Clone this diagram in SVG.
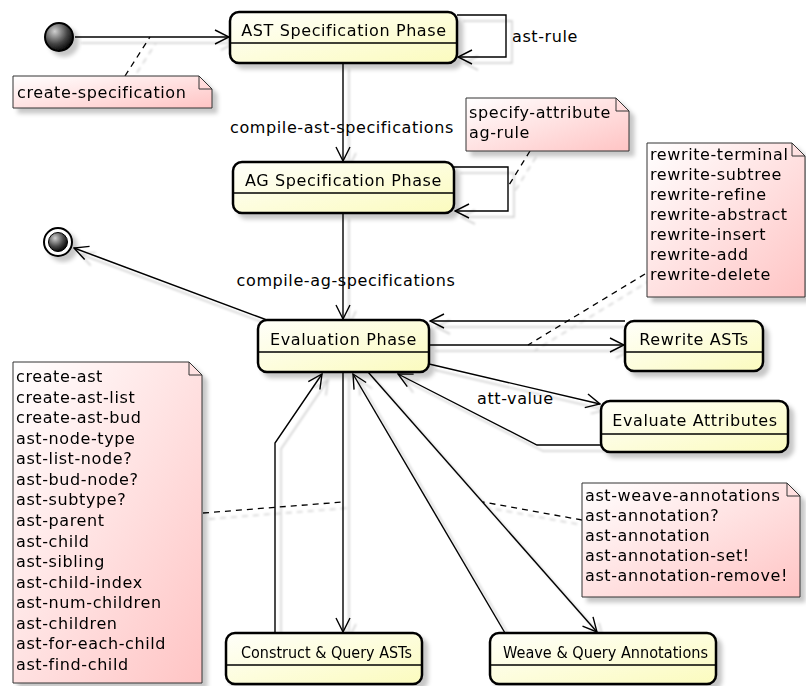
<svg xmlns="http://www.w3.org/2000/svg" width="806" height="686" viewBox="0 0 806 686">
<style>
text{font-family:"DejaVu Sans","Liberation Sans",sans-serif;font-size:16px;letter-spacing:0.6px;fill:#000}
.state{fill:url(#gState);stroke:#000;stroke-width:2.5}
.div{stroke:#000;stroke-width:1.5}
.note{fill:url(#gNote);stroke:#333;stroke-width:1}
.fold{fill:none;stroke:#333;stroke-width:1}
.ln{fill:none;stroke:#000;stroke-width:1.4}
.arr{marker-end:url(#ah)}
.dash{fill:none;stroke:#000;stroke-width:1.3;stroke-dasharray:6,5}
.fit{letter-spacing:0}
</style>
<defs>
<linearGradient id="gState" x1="0" y1="0" x2="1" y2="1">
<stop offset="0" stop-color="#FFFFFA"/><stop offset="1" stop-color="#FBFBBE"/>
</linearGradient>
<linearGradient id="gNote" x1="0" y1="0" x2="1" y2="1">
<stop offset="0" stop-color="#FFFFFF"/><stop offset="1" stop-color="#FFC4C4"/>
</linearGradient>
<radialGradient id="gDot" cx="0.35" cy="0.3" r="0.75">
<stop offset="0" stop-color="#d0d0d0"/><stop offset="0.6" stop-color="#444"/><stop offset="1" stop-color="#000"/>
</radialGradient>
<filter id="sh" x="-20%" y="-20%" width="150%" height="150%">
<feDropShadow dx="5" dy="5" stdDeviation="2" flood-color="#000" flood-opacity="0.22"/>
</filter>
<filter id="lsh" filterUnits="userSpaceOnUse" x="0" y="0" width="806" height="686">
<feDropShadow dx="6" dy="6" stdDeviation="0.8" flood-color="#000" flood-opacity="0.2"/>
</filter>
<marker id="ah" viewBox="0 0 16 16" refX="15" refY="8" markerWidth="16" markerHeight="16" markerUnits="userSpaceOnUse" orient="auto">
<path d="M1,1 L15,8 L1,15" fill="none" stroke="#000" stroke-width="1.4"/>
</marker>
</defs>

<g id="connectors" filter="url(#lsh)">
<path class="ln arr" d="M75,37 L229,37"/>
<path class="ln arr" d="M457,15 L506,15 L506,57 L458,57"/>
<path class="ln arr" d="M343,63 L343,161"/>
<path class="ln arr" d="M454,167 L508,167 L508,211 L455,211"/>
<path class="ln arr" d="M343,213 L343,319"/>
<path class="ln arr" d="M267,320 L74,248"/>
<path class="ln arr" d="M625,321 L430,321"/>
<path class="ln arr" d="M429,345 L624,345"/>
<path class="ln arr" d="M429,364 L600,404"/>
<path class="ln arr" d="M601,445 L537,445 L398,374"/>
<path class="ln arr" d="M275,633 L275,443 L322,374"/>
<path class="ln arr" d="M343,372 L343,632"/>
<path class="ln arr" d="M505,633 L353,374"/>
<path class="ln arr" d="M368,372 L597,632"/>
<path class="dash" d="M125,76 L150,37"/>
<path class="dash" d="M530,151 L509,185"/>
<path class="dash" d="M645,274 L528,345"/>
<path class="dash" d="M203,513 L343,502"/>
<path class="dash" d="M582,520 L483,502"/>
</g>
<g id="connector-labels">
<text x="512" y="42">ast-rule</text>
<text x="342" y="133" text-anchor="middle">compile-ast-specifications</text>
<text x="346" y="286" text-anchor="middle">compile-ag-specifications</text>
<text x="477" y="404">att-value</text>
</g>

<g id="start" filter="url(#sh)">
<circle cx="59" cy="37" r="14" fill="url(#gDot)" stroke="#000" stroke-width="2"/>
</g>
<g id="end" filter="url(#sh)">
<circle cx="58" cy="242" r="14" fill="#fff" stroke="#000" stroke-width="2"/>
<circle cx="58" cy="242" r="9.5" fill="url(#gDot)" stroke="#000" stroke-width="1"/>
</g>

<g id="ast-spec" filter="url(#sh)">
<rect class="state" x="230" y="12" width="227" height="51" rx="9"/>
<line class="div" x1="231" y1="43" x2="456" y2="43"/>
<text x="344" y="36" text-anchor="middle">AST Specification Phase</text>
</g>
<g id="ag-spec" filter="url(#sh)">
<rect class="state" x="233" y="162" width="221" height="51" rx="9"/>
<line class="div" x1="234" y1="193" x2="453" y2="193"/>
<text x="343.5" y="186" text-anchor="middle">AG Specification Phase</text>
</g>
<g id="evaluation" filter="url(#sh)">
<rect class="state" x="258" y="320" width="171" height="52" rx="9"/>
<line class="div" x1="259" y1="352" x2="428" y2="352"/>
<text x="343.5" y="345" text-anchor="middle">Evaluation Phase</text>
</g>
<g id="rewrite" filter="url(#sh)">
<rect class="state" x="625" y="321" width="138" height="50" rx="9"/>
<line class="div" x1="626" y1="352" x2="762" y2="352"/>
<text x="694" y="345" text-anchor="middle">Rewrite ASTs</text>
</g>
<g id="eval-attr" filter="url(#sh)">
<rect class="state" x="601" y="401" width="187" height="51" rx="9"/>
<line class="div" x1="602" y1="434" x2="787" y2="434"/>
<text x="695" y="426" text-anchor="middle">Evaluate Attributes</text>
</g>
<g id="construct" filter="url(#sh)">
<rect class="state" x="226" y="633" width="196" height="51" rx="9"/>
<line class="div" x1="227" y1="665" x2="421" y2="665"/>
<text class="fit" x="241" y="658" textLength="171" lengthAdjust="spacingAndGlyphs">Construct &amp; Query ASTs</text>
</g>
<g id="weave" filter="url(#sh)">
<rect class="state" x="490" y="633" width="226" height="51" rx="9"/>
<line class="div" x1="491" y1="665" x2="715" y2="665"/>
<text class="fit" x="503" y="658" textLength="205" lengthAdjust="spacingAndGlyphs">Weave &amp; Query Annotations</text>
</g>

<g id="note-create-spec" filter="url(#sh)">
<path class="note" d="M13,76 L199,76 L212,89 L212,108 L13,108 Z"/>
<path class="fold" d="M199,76 L199,89 L212,89"/>
<text x="17" y="98">create-specification</text>
</g>
<g id="note-specify" filter="url(#sh)">
<path class="note" d="M466,98 L616,98 L629,111 L629,151 L466,151 Z"/>
<path class="fold" d="M616,98 L616,111 L629,111"/>
<text x="469" y="118">specify-attribute</text>
<text x="469" y="138">ag-rule</text>
</g>
<g id="note-rewrite" filter="url(#sh)">
<path class="note" d="M647,143 L792,143 L805,156 L805,297 L647,297 Z"/>
<path class="fold" d="M792,143 L792,156 L805,156"/>
<text x="650" y="160">rewrite-terminal</text>
<text x="650" y="180">rewrite-subtree</text>
<text x="650" y="200">rewrite-refine</text>
<text x="650" y="220">rewrite-abstract</text>
<text x="650" y="240">rewrite-insert</text>
<text x="650" y="260">rewrite-add</text>
<text x="650" y="280">rewrite-delete</text>
</g>
<g id="note-ast" filter="url(#sh)">
<path class="note" d="M13,362 L189,362 L202,375 L202,683 L13,683 Z"/>
<path class="fold" d="M189,362 L189,375 L202,375"/>
<text x="16" y="382">create-ast</text>
<text x="16" y="402.6">create-ast-list</text>
<text x="16" y="423.1">create-ast-bud</text>
<text x="16" y="443.7">ast-node-type</text>
<text x="16" y="464.3">ast-list-node?</text>
<text x="16" y="484.9">ast-bud-node?</text>
<text x="16" y="505.4">ast-subtype?</text>
<text x="16" y="526">ast-parent</text>
<text x="16" y="546.6">ast-child</text>
<text x="16" y="567.1">ast-sibling</text>
<text x="16" y="587.7">ast-child-index</text>
<text x="16" y="608.3">ast-num-children</text>
<text x="16" y="628.9">ast-children</text>
<text x="16" y="649.4">ast-for-each-child</text>
<text x="16" y="670">ast-find-child</text>
</g>
<g id="note-annotations" filter="url(#sh)">
<path class="note" d="M582,483 L787,483 L800,496 L800,597 L582,597 Z"/>
<path class="fold" d="M787,483 L787,496 L800,496"/>
<text x="585" y="501">ast-weave-annotations</text>
<text x="585" y="521">ast-annotation?</text>
<text x="585" y="541">ast-annotation</text>
<text x="585" y="561">ast-annotation-set!</text>
<text x="585" y="581">ast-annotation-remove!</text>
</g>
</svg>
